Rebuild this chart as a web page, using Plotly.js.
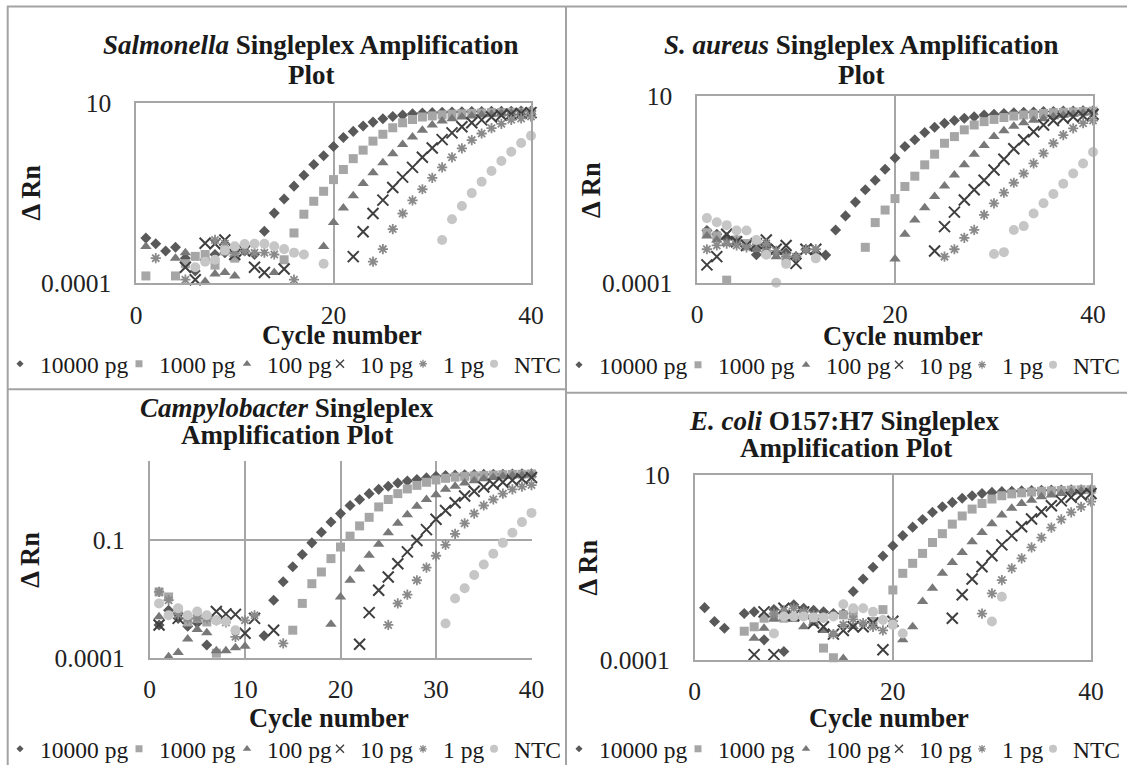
<!DOCTYPE html>
<html>
<head>
<meta charset="utf-8">
<script src="https://cdn.plot.ly/plotly-3.0.1.min.js"></script>
<style>
html,body{margin:0;padding:0;background:#ffffff;}
#chart{width:1127px;height:765px;}
</style>
</head>
<body>
<div id="chart"></div>
<script>
// ---------------- DATA ----------------
const cycles = [1,2,3,4,5,6,7,8,9,10,11,12,13,14,15,16,17,18,19,20,21,22,23,24,25,26,27,28,29,30,31,32,33,34,35,36,37,38,39,40];
const doses = ["10000 pg","1000 pg","100 pg","10 pg","1 pg","NTC"];
const xTicksMain = [0,20,40];
const xTicksCampy = [0,10,20,30,40];
const yTicksMain = [0.0001,10];
const yTickTextMain = ["0.0001","10"];
const yTicksCampy = [0.0001,0.1];
const yTickTextCampy = ["0.0001","0.1"];

// Salmonella (ΔRn per cycle)
const sal_10000 = [1.8e-3,1.26e-3,7.9e-4,1.0e-3,5.0e-4,2.2e-4,4.5e-4,6.3e-4,7.1e-4,5.6e-4,7.9e-4,6.3e-4,2.8e-3,8.9e-3,0.022,0.05,0.1,0.2,0.35,0.63,1.12,1.66,2.34,3.0,3.7,4.3,4.7,5.1,5.4,5.5,5.6,5.75,5.8,5.9,5.9,6.0,6.0,6.05,6.1,6.1];
const sal_1000 = [1.6e-4,null,null,1.6e-4,3.5e-4,5.6e-4,6.3e-4,3.2e-4,7.9e-4,5.0e-4,null,null,null,null,4.5e-4,2.5e-3,8.3e-3,0.019,0.036,0.076,0.145,0.29,0.5,0.89,1.38,2.09,2.88,3.55,4.17,4.47,4.79,5.01,5.13,5.25,5.37,5.5,5.5,5.62,5.62,5.75];
const sal_100 = [1.05e-3,null,null,5.0e-4,7.1e-4,null,1.12e-4,1.8e-4,2.0e-4,1.6e-4,null,null,null,2.0e-4,null,null,null,null,1.05e-3,4.9e-3,0.0123,0.027,0.059,0.117,0.224,0.4,0.72,1.15,1.78,2.51,3.24,3.72,4.17,4.47,4.79,5.0,5.25,5.37,5.5,5.62];
const sal_10 = [null,null,null,null,2.8e-4,1.26e-4,1.3e-3,1.26e-3,1.6e-3,6.3e-4,7.9e-4,2.8e-4,2.0e-4,null,2.5e-4,null,null,null,null,null,null,5.5e-4,2.7e-3,8.7e-3,0.0204,0.0457,0.089,0.166,0.316,0.575,0.98,1.51,2.24,2.88,3.47,4.17,4.68,5.0,5.25,5.5];
const sal_1 = [null,5.0e-4,null,null,1.26e-4,null,null,1.6e-3,1.26e-3,6.9e-4,7.9e-4,7.1e-4,7.1e-4,6.3e-4,null,1.26e-4,null,null,null,null,null,null,null,4.0e-4,8.9e-4,3.2e-3,8.7e-3,0.02,0.041,0.085,0.166,0.316,0.56,0.95,1.45,2.04,2.69,3.47,3.8,4.27];
const sal_ntc = [null,null,null,null,null,2.8e-4,4.0e-4,4.5e-4,8.3e-4,1.07e-3,1.23e-3,1.26e-3,1.26e-3,1.07e-3,8.9e-4,7.1e-4,6.3e-4,null,3.5e-4,null,null,null,null,null,null,null,null,null,null,null,1.6e-3,6.0e-3,0.0141,0.032,0.066,0.132,0.25,0.45,0.79,1.26];

// S. aureus
const aur_10000 = [2.5e-3,2.0e-3,1.6e-3,1.4e-3,1.0e-3,5.6e-4,8.9e-4,6.3e-4,6.3e-4,5.0e-4,7.9e-4,6.3e-4,5.5e-4,2.6e-3,6.2e-3,0.0145,0.031,0.056,0.11,0.22,0.45,0.68,1.07,1.48,1.9,2.24,2.57,2.82,3.16,3.3,3.47,3.63,3.72,3.8,3.9,3.9,4.0,4.0,4.07,4.07];
const aur_1000 = [2.2e-3,1.8e-3,1.17e-4,1.4e-3,1.12e-3,8.9e-4,6.3e-4,null,4.5e-4,null,null,null,null,null,null,null,8.9e-4,4.1e-3,8.9e-3,0.018,0.038,0.072,0.145,0.28,0.55,0.83,1.26,1.7,2.09,2.4,2.69,2.95,3.16,3.3,3.47,3.63,3.72,3.8,3.9,4.0];
const aur_100 = [1.8e-3,1.4e-3,1.12e-3,1.26e-3,8.9e-4,7.9e-4,7.1e-4,5.0e-4,null,null,null,null,null,null,null,null,null,null,null,4.3e-4,2.0e-3,4.8e-3,0.0102,0.0204,0.039,0.078,0.145,0.28,0.48,0.83,1.2,1.58,1.95,2.29,2.51,2.82,3.09,3.3,3.55,3.72];
const aur_10 = [3.0e-4,5.0e-4,2.0e-3,1.26e-3,1.0e-3,1.12e-3,1.4e-3,7.9e-4,1.0e-3,3.3e-4,7.9e-4,7.9e-4,null,null,null,null,null,null,null,null,null,null,null,7.1e-4,3.2e-3,7.8e-3,0.0166,0.031,0.056,0.105,0.204,0.39,0.68,1.12,1.7,2.24,2.57,2.82,3.02,3.3];
const aur_1 = [7.9e-4,1.0e-3,1.12e-3,1.0e-3,8.9e-4,1.26e-3,1.12e-3,7.1e-4,5.0e-4,5.0e-4,7.6e-4,7.9e-4,null,null,null,null,null,null,null,null,null,null,null,null,5.0e-4,7.9e-4,1.6e-3,2.6e-3,6.6e-3,0.0135,0.026,0.048,0.085,0.158,0.295,0.55,0.91,1.38,1.9,2.24];
const aur_ntc = [5.4e-3,4.2e-3,3.5e-3,2.5e-3,2.5e-3,1.4e-3,5.6e-4,1.0e-4,3.2e-4,null,null,4.5e-4,null,null,null,null,null,null,null,null,null,null,null,null,null,null,null,null,null,5.9e-4,6.6e-4,2.6e-3,3.3e-3,7.2e-3,0.0135,0.024,0.045,0.085,0.158,0.32];

// Campylobacter
const cam_10000 = [6.8e-4,1.6e-3,1.0e-3,6.3e-4,7.6e-4,2.1e-4,null,null,null,null,null,3.6e-4,2.9e-3,8.5e-3,0.0204,0.042,0.083,0.155,0.28,0.46,0.74,1.05,1.48,1.9,2.29,2.75,3.09,3.39,3.72,4.07,4.27,4.37,4.47,4.5,4.57,4.6,4.62,4.68,4.7,4.7];
const cam_1000 = [4.7e-3,3.5e-3,1.6e-3,8.1e-4,1.0e-3,8.1e-4,1.3e-4,null,null,null,null,null,null,null,5.0e-4,2.4e-3,7.6e-3,0.0151,0.033,0.065,0.123,0.224,0.37,0.68,1.05,1.48,1.95,2.4,2.88,3.3,3.63,3.9,4.07,4.17,4.27,4.37,4.47,4.57,4.6,4.68];
const cam_100 = [1.1e-3,1.05e-4,1.35e-4,3.0e-4,5.2e-4,4.3e-4,1.5e-4,1.5e-4,1.8e-4,1.95e-4,null,null,null,null,null,null,null,null,7.1e-4,3.5e-3,9.3e-3,0.018,0.04,0.076,0.15,0.26,0.43,0.71,1.05,1.38,1.9,2.29,2.75,3.16,3.55,3.8,4.07,4.27,4.37,4.47];
const cam_10 = [6.8e-4,null,1.0e-3,null,null,null,1.5e-3,1.3e-3,1.26e-3,4.2e-4,1.0e-3,null,5.0e-4,null,null,null,null,null,null,null,null,2.2e-4,1.4e-3,5.2e-3,0.0112,0.0245,0.049,0.095,0.18,0.33,0.55,0.87,1.29,1.7,2.19,2.57,2.88,3.24,3.55,3.8];
const cam_1 = [4.7e-3,2.9e-3,1.26e-3,1.0e-3,1.0e-3,1.0e-3,8.9e-4,7.9e-4,3.4e-4,8.9e-4,1.2e-3,null,null,2.3e-4,null,null,null,null,null,null,null,null,null,null,6.8e-4,2.4e-3,4.0e-3,9.3e-3,0.0195,0.039,0.074,0.141,0.26,0.46,0.74,1.05,1.48,1.9,2.24,2.45];
const cam_ntc = [2.4e-3,1.2e-3,1.8e-3,1.2e-3,1.5e-3,1.2e-3,8.9e-4,8.3e-4,5.0e-4,null,null,null,null,null,null,null,null,null,null,null,null,null,null,null,null,null,null,null,null,null,7.4e-4,3.2e-3,5.8e-3,0.0126,0.0234,0.044,0.083,0.15,0.28,0.48];

// E. coli O157:H7
const eco_10000 = [2.6e-3,1.1e-3,7.2e-4,null,1.8e-3,2.0e-3,3.5e-4,2.3e-3,1.7e-4,3.1e-3,2.5e-3,2.2e-3,2.0e-3,1.8e-3,1.8e-3,7.1e-3,0.0155,0.032,0.065,0.123,0.23,0.39,0.63,0.98,1.38,1.82,2.34,2.75,3.16,3.39,3.55,3.63,3.72,3.8,3.85,3.9,3.93,3.98,4.0,4.0];
const eco_1000 = [null,null,null,null,6.0e-4,7.9e-4,1.35e-3,1.5e-3,1.35e-3,1.4e-3,1.66e-3,1.1e-3,2.1e-4,1.15e-4,1.66e-3,1.8e-3,null,1.1e-3,2.3e-3,7.8e-3,0.022,0.041,0.076,0.15,0.26,0.47,0.78,1.2,1.7,2.24,2.75,3.09,3.3,3.47,3.63,3.72,3.8,3.9,3.98,4.0];
const eco_100 = [null,null,null,null,null,3.9e-4,7.2e-4,1.26e-3,1.35e-3,1.26e-3,7.9e-4,1.0e-3,6.3e-4,5.0e-4,1.1e-4,8.1e-4,null,null,null,null,3.5e-4,7.9e-4,3.8e-3,8.7e-3,0.022,0.043,0.081,0.158,0.28,0.48,0.83,1.26,1.7,2.09,2.57,2.88,3.16,3.47,3.72,4.0];
const eco_10 = [null,null,null,null,null,1.4e-4,2.0e-3,1.4e-4,2.5e-3,1.6e-3,2.0e-3,1.0e-3,7.9e-4,5.0e-4,6.3e-4,7.9e-4,7.9e-4,1.0e-3,1.9e-4,1.12e-3,null,null,null,null,null,1.35e-3,5.8e-3,0.0155,0.033,0.066,0.129,0.23,0.4,0.65,1.02,1.48,2.0,2.51,2.88,3.16];
const eco_1 = [null,null,null,null,null,null,null,1.8e-3,2.2e-3,2.5e-3,2.0e-3,1.6e-3,1.4e-3,5.0e-4,8.9e-4,1.26e-3,1.0e-3,7.9e-4,6.3e-4,1.12e-3,null,null,null,null,null,null,null,null,1.8e-3,6.3e-3,0.0145,0.03,0.056,0.11,0.204,0.38,0.63,0.98,1.38,1.9];
const eco_ntc = [null,null,null,null,null,null,null,5.2e-4,1.5e-3,1.5e-3,1.5e-3,1.4e-3,1.4e-3,1.5e-3,3.2e-3,2.5e-3,2.5e-3,2.0e-3,1.2e-3,8.9e-4,5.2e-4,null,null,null,null,null,null,null,null,1.1e-3,5.1e-3,null,null,null,null,null,null,null,null,null];

// ---------------- STYLE / LAYOUT ----------------
const W = 1127, H = 765;
const px = v => v / W;
const py = v => 1 - v / H;
const SERIF = "'Liberation Serif', 'Times New Roman', Times, serif";
const GRID = '#a6a6a6';
const FRAME = '#a3a3a3';
const TXT = '#1a1a1a';

const markerStyles = [
  {symbol:'diamond', size:8.5, color:'#595959', line:{width:0}},
  {symbol:'square', size:9, color:'#a6a6a6', line:{width:0}},
  {symbol:'triangle-up', size:10, color:'#787878', line:{width:0}},
  {symbol:'x-thin-open', size:11, color:'#3f3f3f', line:{width:2, color:'#3f3f3f'}},
  {symbol:'asterisk-open', size:8.5, color:'#8a8a8a', line:{width:1.8, color:'#8a8a8a'}},
  {symbol:'circle', size:10, color:'#c6c6c6', line:{width:0}}
];
// smaller symbols used for the legend keys
const legendMarkerStyles = [
  {symbol:'diamond', size:5.5, color:'#595959', line:{width:0}},
  {symbol:'square', size:7, color:'#a6a6a6', line:{width:0}},
  {symbol:'triangle-up', size:7.5, color:'#787878', line:{width:0}},
  {symbol:'x-thin-open', size:8, color:'#3f3f3f', line:{width:1.4, color:'#3f3f3f'}},
  {symbol:'asterisk-open', size:6.5, color:'#8a8a8a', line:{width:1.3, color:'#8a8a8a'}},
  {symbol:'circle', size:8, color:'#c6c6c6', line:{width:0}}
];
const legendWidths = [74, 63, 48, 38, 26, 50];

const panels = [
  {series:[sal_10000,sal_1000,sal_100,sal_10,sal_1,sal_ntc], legend:'legend'},
  {series:[aur_10000,aur_1000,aur_100,aur_10,aur_1,aur_ntc], legend:'legend2'},
  {series:[cam_10000,cam_1000,cam_100,cam_10,cam_1,cam_ntc], legend:'legend3'},
  {series:[eco_10000,eco_1000,eco_100,eco_10,eco_1,eco_ntc], legend:'legend4'}
];

const traces = [];
panels.forEach((p, pi) => {
  const suf = pi === 0 ? '' : String(pi + 1);
  p.series.forEach((ys, si) => {
    traces.push({
      type:'scatter', mode:'markers',
      x: cycles, y: ys,
      name: doses[si],
      xaxis:'x' + suf, yaxis:'y' + suf,
      legendgroup: 'p' + pi + 's' + si,
      marker: markerStyles[si],
      cliponaxis: false,
      showlegend: false
    });
  });
  // legend keys (no points drawn)
  p.series.forEach((ys, si) => {
    traces.push({
      type:'scatter', mode:'markers',
      x: [null], y: [null],
      name: doses[si],
      xaxis:'x' + suf, yaxis:'y' + suf,
      legend: p.legend,
      legendgroup: 'p' + pi + 's' + si,
      legendwidth: legendWidths[si],
      marker: legendMarkerStyles[si],
      hoverinfo:'skip',
      showlegend: true
    });
  });
});

const TICKFONT = {family:SERIF, size:25.5, color:'#222222'};

function xAxis(d0, d1, anchor, tickvals, mirror) {
  return {domain:[px(d0), px(d1)], anchor, range:[0,40], tickmode:'array', tickvals,
    ticktext: tickvals.map(String), showgrid:true, gridcolor:GRID, gridwidth:1.5,
    zeroline:false, showline:true, linecolor:GRID, linewidth:1.5, mirror,
    ticks:'', tickfont:TICKFONT, ticklabelstandoff:8, fixedrange:true};
}
function yAxis(top, bottom, anchor, tickvals, ticktext, mirror) {
  return {type:'log', domain:[py(bottom), py(top)], anchor, range:[-4,1], tickmode:'array',
    tickvals, ticktext, showgrid:true, gridcolor:GRID, gridwidth:1.5,
    zeroline:false, showline:true, linecolor:GRID, linewidth:1.5, mirror,
    ticks:'', tickfont:TICKFONT, ticklabelstandoff:18, fixedrange:true};
}

function ann(text, x, y, size, angle) {
  return {text, xref:'paper', yref:'paper', x:px(x), y:py(y), xanchor:'center', yanchor:'middle',
    showarrow:false, textangle: angle || 0, font:{family:SERIF, size:size, color:TXT}};
}

const annotations = [
  ann('<b><i>Salmonella</i> Singleplex Amplification</b>', 311, 44.7, 27),
  ann('<b>Plot</b>', 311, 75, 27),
  ann('<b><i>S. aureus</i> Singleplex Amplification</b>', 861.6, 44.7, 27),
  ann('<b>Plot</b>', 861.5, 75, 27),
  ann('<b><i>Campylobacter</i> Singleplex</b>', 287, 408.3, 27),
  ann('<b>Amplification Plot</b>', 286.5, 435, 27),
  ann('<b><i>E. coli</i> O157:H7 Singleplex</b>', 844.5, 420.8, 27),
  ann('<b>Amplification Plot</b>', 846, 448.3, 27),
  ann('<b>Cycle number</b>', 342, 334.5, 26.5),
  ann('<b>Cycle number</b>', 903, 335.5, 26.5),
  ann('<b>Cycle number</b>', 328.8, 717.5, 26.5),
  ann('<b>Cycle number</b>', 888.5, 718, 26.5),
  ann('<b>Δ Rn</b>', 30.6, 193, 26.5, -90),
  ann('<b>Δ Rn</b>', 591, 190, 26.5, -90),
  ann('<b>Δ Rn</b>', 29.7, 560, 26.5, -90),
  ann('<b>Δ Rn</b>', 587, 567.5, 26.5, -90)
];

function line(x0, y0, x1, y1) {
  return {type:'line', xref:'paper', yref:'paper', x0:px(x0), y0:py(y0), x1:px(x1), y1:py(y1),
    line:{color:FRAME, width:2}, layer:'below'};
}
const shapes = [
  line(7, 6.5, 1127, 6.5),
  line(7.7, 6, 7.7, 765),
  line(566, 6, 566, 765),
  line(7, 389.3, 566, 389.3),
  line(566, 392.7, 1127, 392.7)
];

function legendAt(xpx, ypx) {
  return {orientation:'h', x:px(xpx), xanchor:'left', y:py(ypx), yanchor:'middle',
    font:{family:SERIF, size:23.5, color:TXT}, bgcolor:'rgba(0,0,0,0)', borderwidth:0,
    itemwidth:30, entrywidthmode:'pixels', valign:'middle'};
}

const layout = {
  width:W, height:H,
  margin:{l:0, r:0, t:0, b:0, pad:0, autoexpand:false},
  paper_bgcolor:'#ffffff', plot_bgcolor:'rgba(0,0,0,0)',
  font:{family:SERIF, color:TXT},
  showlegend:true,
  xaxis:  xAxis(136, 531, 'y',  xTicksMain, true),
  yaxis:  yAxis(103.3, 283.3, 'x', yTicksMain, yTickTextMain, true),
  xaxis2: xAxis(697, 1093, 'y2', xTicksMain, true),
  yaxis2: yAxis(96.3, 282.7, 'x2', yTicksMain, yTickTextMain, true),
  xaxis3: xAxis(149.5, 531.5, 'y3', xTicksCampy, false),
  yaxis3: yAxis(461, 657.7, 'x3', yTicksCampy, yTickTextCampy, false),
  xaxis4: xAxis(694.7, 1091, 'y4', xTicksMain, true),
  yaxis4: yAxis(475, 660, 'x4', yTicksMain, yTickTextMain, true),
  legend:  legendAt(0, 364),
  legend2: legendAt(559, 365),
  legend3: legendAt(0, 749),
  legend4: legendAt(559, 749),
  annotations, shapes
};

Plotly.newPlot('chart', traces, layout, {displayModeBar:false, responsive:false});
</script>
</body>
</html>
